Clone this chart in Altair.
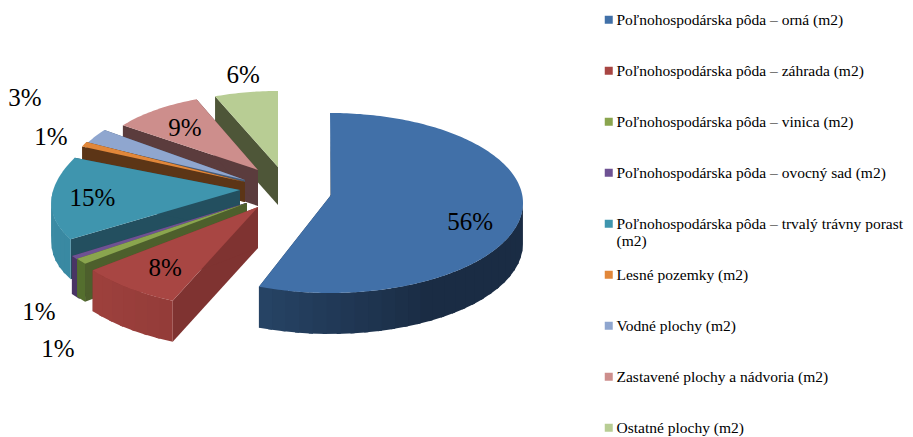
import math
import altair as alt

CATEGORIES = [
    "Poľnohospodárska pôda – orná (m2)",
    "Poľnohospodárska pôda – záhrada (m2)",
    "Poľnohospodárska pôda – vinica (m2)",
    "Poľnohospodárska pôda – ovocný sad (m2)",
    "Poľnohospodárska pôda – trvalý trávny porast (m2)",
    "Lesné pozemky (m2)",
    "Vodné plochy (m2)",
    "Zastavené plochy a nádvoria (m2)",
    "Ostatné plochy (m2)",
]
SHARES = [56, 8, 1, 1, 15, 1, 3, 9, 6]
TOP_COLORS = ["#4170a8", "#a84643", "#8aa54e", "#6e5293", "#3f95ae", "#e1873a", "#8fa6cf", "#cd8e8c", "#b8cd94"]
FACE_COLORS = ["#1d3452", "#7f3331", "#4d5f2c", "#3e2d55", "#234f5f", "#5c3516", "#465a76", "#5b3c3d", "#4e5638"]
WALL_LEFT = ["#30557d", "#a3433f", "#55702e", "#4a3566", "#3a8aa3", "#a0602a", "#6a7f9f", "#8f6463", "#7f8f60"]
WALL_RIGHT = ["#1a2c44", "#7d3230", "#4d5f2c", "#3e2d55", "#2f7288", "#5c3516", "#465a76", "#5b3c3d", "#4e5638"]

# Layout of the 3D look: apex, ellipse centre, radii, depth, perspective, label placement
APEX = [(331, 195), (258, 207), (247, 203), (246, 203), (240, 190), (245, 182), (245, 180), (258, 170), (278, 167)]
CENTRE = [(330, 203), (246, 204), (243, 200), (245, 205), (240, 191), (242, 176), (246, 177), (258, 170), (278, 167)]
RADII = [(193, 90), (199, 104), (205, 100), (205, 95), (187, 90), (172, 80), (175, 80), (167, 76), (171, 76)]
DEPTH = [41, 41, 38, 38, 40, 20, 20, 36, 38]
PERSP = [0, 0, 0, 0, 0.15, 0, 0, 0, 0]
LABEL_F = [(.739, 1.13), (.692, .756), (1.142, 2.43), (1.215, 2.0), (.793, .83),
           (1.21, 1.228), (1.467, 1.94), (.713, .70), (1.09, 1.233)]
DRAW_ORDER = [8, 7, 6, 5, 4, 3, 2, 1, 0]

OFFSET = 8


def mix(a, b, t):
    ca = [int(a[i:i + 2], 16) for i in (1, 3, 5)]
    cb = [int(b[i:i + 2], 16) for i in (1, 3, 5)]
    return "#%02x%02x%02x" % tuple(round(x + (y - x) * t) for x, y in zip(ca, cb))


def rim(i, deg):
    a = math.radians(deg)
    ex, ey = CENTRE[i]
    rx, ry = RADII[i]
    y = ey - ry * math.cos(a)
    x = ex + rx * math.sin(a) * (1 + PERSP[i] * (y - ey) / 100)
    return (x, y)


def poly(points, key):
    ring = [[x, y] for x, y in points]
    ring.append(ring[0])
    return {"type": "Feature", "properties": {"key": key},
            "geometry": {"type": "Polygon", "coordinates": [ring]}}


starts, total = [], 0
for s in SHARES:
    starts.append(total)
    total += s

features, shades = [], []
for i in DRAW_ORDER:
    a0 = starts[i] * 3.6
    a1 = (starts[i] + SHARES[i]) * 3.6
    apex, d = APEX[i], DEPTH[i]
    down = lambda p: (p[0], p[1] + d)
    p0, p1 = rim(i, a0), rim(i, a1)
    # cut faces
    for p in (p0, p1):
        features.append(poly([apex, p, down(p), down(apex)], FACE_COLORS[i]))
        shades.append(FACE_COLORS[i])
    # outer wall, only on the part of the arc that faces the viewer
    w0, w1 = max(a0, 90), min(a1, 270)
    if w1 > w0:
        n = max(1, int((w1 - w0) / 4))
        for k in range(n):
            u0 = w0 + (w1 - w0) * k / n
            u1 = w0 + (w1 - w0) * min(k + 1.3, n) / n
            q0, q1 = rim(i, u0), rim(i, u1)
            xs = (q0[0] + q1[0]) / 2
            lo, hi = RADII[i][0], CENTRE[i][0]
            t = min(1, max(0, (xs - (hi - lo)) / (1.5 * lo)))
            col = mix(WALL_LEFT[i], WALL_RIGHT[i], t)
            features.append(poly([q0, q1, down(q1), down(q0)], col))
            shades.append(col)
    # top face
    steps = max(2, int(a1 - a0))
    arc = [rim(i, a0 + (a1 - a0) * k / steps) for k in range(steps + 1)]
    features.append(poly([apex] + arc, CATEGORIES[i]))

labels = []
for i, c in enumerate(CATEGORIES):
    m = math.radians((starts[i] + SHARES[i] / 2) * 3.6)
    ex, ey = CENTRE[i]
    rx, ry = RADII[i]
    fx, fy = LABEL_F[i]
    labels.append({"text": f"{SHARES[i]}%",
                   "lon": ex + fx * rx * math.sin(m),
                   "lat": ey - fy * ry * math.cos(m)})

shade_list = sorted(set(shades))
proj = dict(type="identity", scale=1, translate=[-OFFSET, -OFFSET])

faces = alt.Chart(alt.Data(values=features)).mark_geoshape(strokeWidth=0).encode(
    color=alt.Color(
        "properties.key:N",
        scale=alt.Scale(domain=CATEGORIES + shade_list, range=TOP_COLORS + shade_list),
        legend=alt.Legend(
            values=CATEGORIES,
            title=None,
            orient="none",
            legendX=591,
            legendY=4,
            symbolType="square",
            symbolSize=64,
            symbolOffset=2,
            symbolStrokeWidth=0,
            labelFont="Liberation Serif",
            labelFontSize=15.5,
            labelColor="#000000",
            labelLimit=320,
            labelOffset=0,
            rowPadding=17,
            gridAlign="all",
            labelExpr="length(datum.label)>45 ? [replace(datum.label,' (m2)',''),'(m2)'] : datum.label",
        ),
    )
).project(**proj)

text = alt.Chart(alt.Data(values=labels)).mark_text(
    font="Liberation Serif", fontSize=25, color="#000000", baseline="middle", align="center"
).encode(longitude="lon:Q", latitude="lat:Q", text="text:N").project(**proj)

chart = alt.layer(faces, text).properties(
    width=897, height=429, padding=0, autosize=alt.AutoSizeParams(type="none"), background="#ffffff"
).configure_view(stroke=None)

chart.save("out.html", embed_options={"renderer": "svg", "actions": False})
